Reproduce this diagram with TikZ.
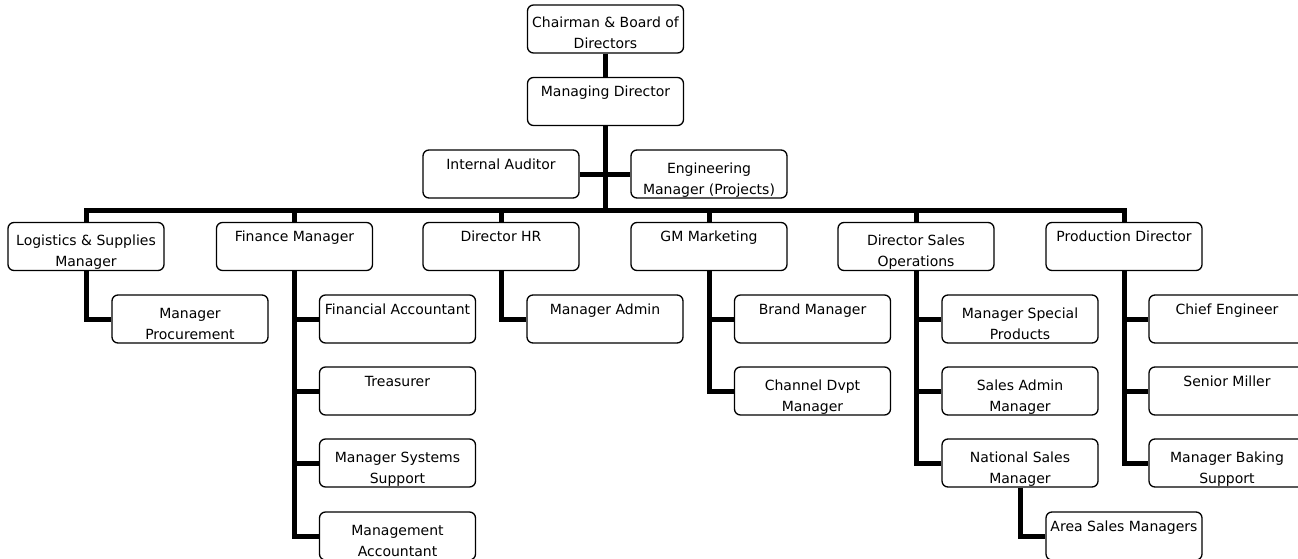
\documentclass[tikz,border=0pt]{standalone}
\usepackage{fontspec}
\setmainfont{DejaVu Sans}
\usepackage{tikz}
\usetikzlibrary{positioning,calc}
\usepackage{xcolor}
\definecolor{chartink}{HTML}{000000}

\begin{document}
\begin{tikzpicture}[x=1pt,y=-1pt,
  post/.style={draw=chartink,line width=1.3pt,rounded corners=6pt,minimum width=156pt,minimum height=48pt,inner sep=0pt,
    font=\fontsize{14}{21}\selectfont,
    execute at begin node={\begin{minipage}[c][48pt][t]{156pt}\centering\rule{0pt}{#1}},
    execute at end node={\end{minipage}}},
  post/.default=19pt,
  link/.style={draw=chartink,line width=5pt}]
\useasboundingbox (0,0) rectangle (1298,559);
\clip (0,0) rectangle (1298,559);
% top of the chart
\node[post=23pt] (chair) at (605.5,29) {Chairman \& Board of\\Directors};
\node[post] (md) at (605.5,101.5) {Managing Director};
\node[post] (audit) at (501,174) {Internal Auditor};
\node[post=23pt] (eng) at (709,174) {Engineering\\Manager (Projects)};
% heads of department
\node[post=23pt] (logi) at (86,246.5) {Logistics \& Supplies\\Manager};
\node[post] (fin) at (294.5,246.5) {Finance Manager};
\node[post] (hr) at (501,246.5) {Director HR};
\node[post] (mkt) at (709,246.5) {GM Marketing};
\node[post=23pt] (sales) at (916,246.5) {Director Sales\\Operations};
\node[post] (prod) at (1124,246.5) {Production Director};
% reports
\node[post=23pt] (proc) at (190,319) {Manager\\Procurement};
\node[post] (finacc) at (397.5,319) {Financial Accountant};
\node[post] (treas) at (397.5,391) {Treasurer};
\node[post=23pt] (syssup) at (397.5,463) {Manager Systems\\Support};
\node[post=23pt] (mgmtacc) at (397.5,536) {Management\\Accountant};
\node[post] (admin) at (605,319) {Manager Admin};
\node[post] (brand) at (812.5,319) {Brand Manager};
\node[post=23pt] (channel) at (812.5,391) {Channel Dvpt\\Manager};
\node[post=23pt] (special) at (1020,319) {Manager Special\\Products};
\node[post=23pt] (salesadmin) at (1020,391) {Sales Admin\\Manager};
\node[post=23pt] (national) at (1020,463) {National Sales\\Manager};
\node[post] (area) at (1124,536) {Area Sales Managers};
\node[post] (chief) at (1227,319) {Chief Engineer};
\node[post] (miller) at (1227,391) {Senior Miller};
\node[post=23pt] (baking) at (1227,463) {Manager Baking\\Support};
% connectors
\coordinate (bar) at (605.5,210);
\draw[link] (chair.south) -- (md.north);
\draw[link] (md.south) -- (bar);
\draw[link] (audit.east) -- (eng.west);
\draw[link] (logi.north) |- (bar) -| (prod.north);
\foreach \n in {fin,hr,mkt,sales}{\draw[link] (\n.north) -- (\n.north |- bar);}
\draw[link] (logi.south) |- (proc.west);
\foreach \n in {finacc,treas,syssup,mgmtacc}{\draw[link] (fin.south) |- (\n.west);}
\draw[link] (hr.south) |- (admin.west);
\foreach \n in {brand,channel}{\draw[link] (mkt.south) |- (\n.west);}
\foreach \n in {special,salesadmin,national}{\draw[link] (sales.south) |- (\n.west);}
\draw[link] (national.south) |- (area.west);
\foreach \n in {chief,miller,baking}{\draw[link] (prod.south) |- (\n.west);}
\end{tikzpicture}
\end{document}
